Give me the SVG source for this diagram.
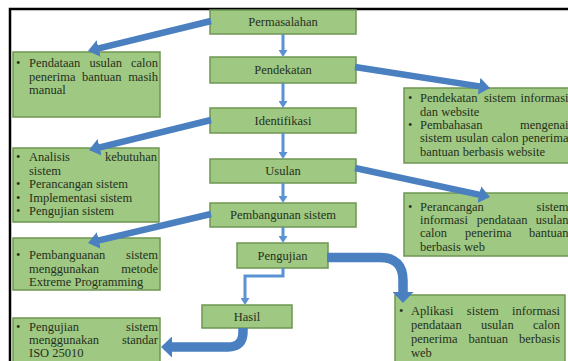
<svg xmlns="http://www.w3.org/2000/svg" width="568" height="361" viewBox="0 0 568 361">
<style>
.box{fill:#9fc882;stroke:#6f9652;stroke-width:1.5}
text{font-family:'Liberation Serif','Times New Roman',Times,serif;font-size:12.5px;fill:#263020}
.lbl{text-anchor:middle}
.e{text-anchor:end}
.thick{fill:none;stroke:#4a7fc0;stroke-width:6.5}
.curve{fill:none;stroke:#4a7fc0;stroke-width:9.5}
.thin{fill:none;stroke:#5a92d2;stroke-width:3}
</style>
<defs>
<marker id="bh" viewBox="0 0 11 17" markerWidth="11" markerHeight="17" refX="2" refY="8.5" orient="auto" markerUnits="userSpaceOnUse"><path d="M0,0 L11,8.5 L0,17 z" fill="#4a7fc0"/></marker>
<marker id="ch" viewBox="0 0 11 21" markerWidth="11" markerHeight="21" refX="1" refY="10.5" orient="auto" markerUnits="userSpaceOnUse"><path d="M0,0 L11,10.5 L0,21 z" fill="#4a7fc0"/></marker>
<marker id="th" viewBox="0 0 7 9" markerWidth="7" markerHeight="9" refX="1" refY="4.5" orient="auto" markerUnits="userSpaceOnUse"><path d="M0,0 L7,4.5 L0,9 z" fill="#5a92d2"/></marker>
</defs>
<rect width="568" height="361" fill="#ffffff"/>
<path d="M10,370 V9 H575" fill="none" stroke="#000" stroke-width="2.5"/>

<g id="n-permasalahan"><rect class="box" x="210" y="10" width="146" height="24"/><text class="lbl" x="283" y="26">Permasalahan</text></g>
<g id="n-pendekatan"><rect class="box" x="210" y="57" width="146" height="26"/><text class="lbl" x="283" y="74">Pendekatan</text></g>
<g id="n-identifikasi"><rect class="box" x="210" y="108" width="146" height="25"/><text class="lbl" x="283" y="125">Identifikasi</text></g>
<g id="n-usulan"><rect class="box" x="210" y="159" width="146" height="24"/><text class="lbl" x="283" y="175">Usulan</text></g>
<g id="n-pembangunan"><rect class="box" x="210" y="203" width="146" height="24"/><text class="lbl" x="283" y="219">Pembangunan sistem</text></g>
<g id="n-pengujian"><rect class="box" x="237" y="243" width="91" height="25"/><text class="lbl" x="282.5" y="260">Pengujian</text></g>
<g id="n-hasil"><rect class="box" x="202" y="305" width="90" height="23"/><text class="lbl" x="247" y="321">Hasil</text></g>

<g id="n-l1"><rect class="box" x="13" y="52" width="147" height="65"/>
<text x="16" y="67">•</text>
<text x="29" y="67">Pendataan</text><text x="89.4" y="67">usulan</text><text class="e" x="158" y="67">calon</text>
<text x="29" y="80.5">penerima</text><text x="82" y="80.5">bantuan</text><text class="e" x="158" y="80.5">masih</text>
<text x="29" y="94">manual</text></g>

<g id="n-l2"><rect class="box" x="13" y="148" width="146" height="74"/>
<text x="16" y="161">•</text><text x="29" y="161">Analisis</text><text class="e" x="157" y="161">kebutuhan</text>
<text x="29" y="175">sistem</text>
<text x="16" y="188">•</text><text x="29" y="188">Perancangan sistem</text>
<text x="16" y="202">•</text><text x="29" y="202">Implementasi sistem</text>
<text x="16" y="215">•</text><text x="29" y="215">Pengujian sistem</text></g>

<g id="n-l3"><rect class="box" x="13" y="238" width="147" height="52"/>
<text x="16" y="259">•</text><text x="29" y="259">Pembanguanan</text><text class="e" x="158" y="259">sistem</text>
<text x="29" y="272.5">menggunakan</text><text class="e" x="158" y="272.5">metode</text>
<text x="29" y="286">Extreme Programming</text></g>

<g id="n-l4"><rect class="box" x="13" y="318" width="147" height="50"/>
<text x="16" y="331">•</text><text x="29" y="331">Pengujian</text><text class="e" x="158" y="331">sistem</text>
<text x="29" y="344">menggunakan</text><text class="e" x="158" y="344">standar</text>
<text x="29" y="357">ISO 25010</text></g>

<g id="n-r1"><rect class="box" x="404" y="88" width="170" height="75"/>
<text x="408" y="102">•</text><text x="420" y="102">Pendekatan</text><text x="484" y="102">sistem</text><text class="e" x="568.5" y="102">informasi</text>
<text x="420" y="116">dan website</text>
<text x="408" y="129">•</text><text x="420" y="129">Pembahasan</text><text class="e" x="568.5" y="129">mengenai</text>
<text x="420" y="142">sistem</text><text x="455.5" y="142">usulan</text><text x="491.5" y="142">calon</text><text class="e" x="568.5" y="142">penerima</text>
<text x="420" y="156">bantuan berbasis website</text></g>

<g id="n-r2"><rect class="box" x="404" y="193" width="170" height="63"/>
<text x="408" y="211">•</text><text x="420" y="211">Perancangan</text><text class="e" x="568.5" y="211">sistem</text>
<text x="420" y="224">informasi</text><text x="476.8" y="224">pendataan</text><text class="e" x="568.5" y="224">usulan</text>
<text x="420" y="237">calon</text><text x="465" y="237">penerima</text><text class="e" x="568.5" y="237">bantuan</text>
<text x="420" y="251">berbasis web</text></g>

<g id="n-r3"><rect class="box" x="395" y="295" width="170" height="72"/>
<text x="399" y="315">•</text><text x="411" y="315">Aplikasi</text><text x="466.8" y="315">sistem</text><text class="e" x="560" y="315">informasi</text>
<text x="411" y="329">pendataan</text><text x="481" y="329">usulan</text><text class="e" x="560" y="329">calon</text>
<text x="411" y="343">penerima</text><text x="468.5" y="343">bantuan</text><text class="e" x="560" y="343">berbasis</text>
<text x="411" y="357">web</text></g>

<g id="connectors">
<path class="thick" d="M211,21 L96.7,48.9" marker-end="url(#bh)"/>
<path class="thick" d="M355,67 L481.1,86.6" marker-end="url(#bh)"/>
<path class="thick" d="M211,120 L97.7,147.8" marker-end="url(#bh)"/>
<path class="thick" d="M355,168 L481.2,195.1" marker-end="url(#bh)"/>
<path class="thick" d="M211,214 L96.8,240.9" marker-end="url(#bh)"/>
<path class="curve" d="M327,257.5 H380 Q403,257.5 403,280.5 V293" marker-end="url(#ch)"/>
<path class="curve" d="M243,328 V332 Q243,347 228,347 H171" marker-end="url(#ch)"/>
<path class="thin" d="M283,34 V51" marker-end="url(#th)"/>
<path class="thin" d="M283,83 V102" marker-end="url(#th)"/>
<path class="thin" d="M283,133 V153" marker-end="url(#th)"/>
<path class="thin" d="M283,183 V197" marker-end="url(#th)"/>
<path class="thin" d="M283,227 V237" marker-end="url(#th)"/>
<path class="thin" d="M283,268 V276 H245 V299" marker-end="url(#th)"/>
</g>
</svg>
